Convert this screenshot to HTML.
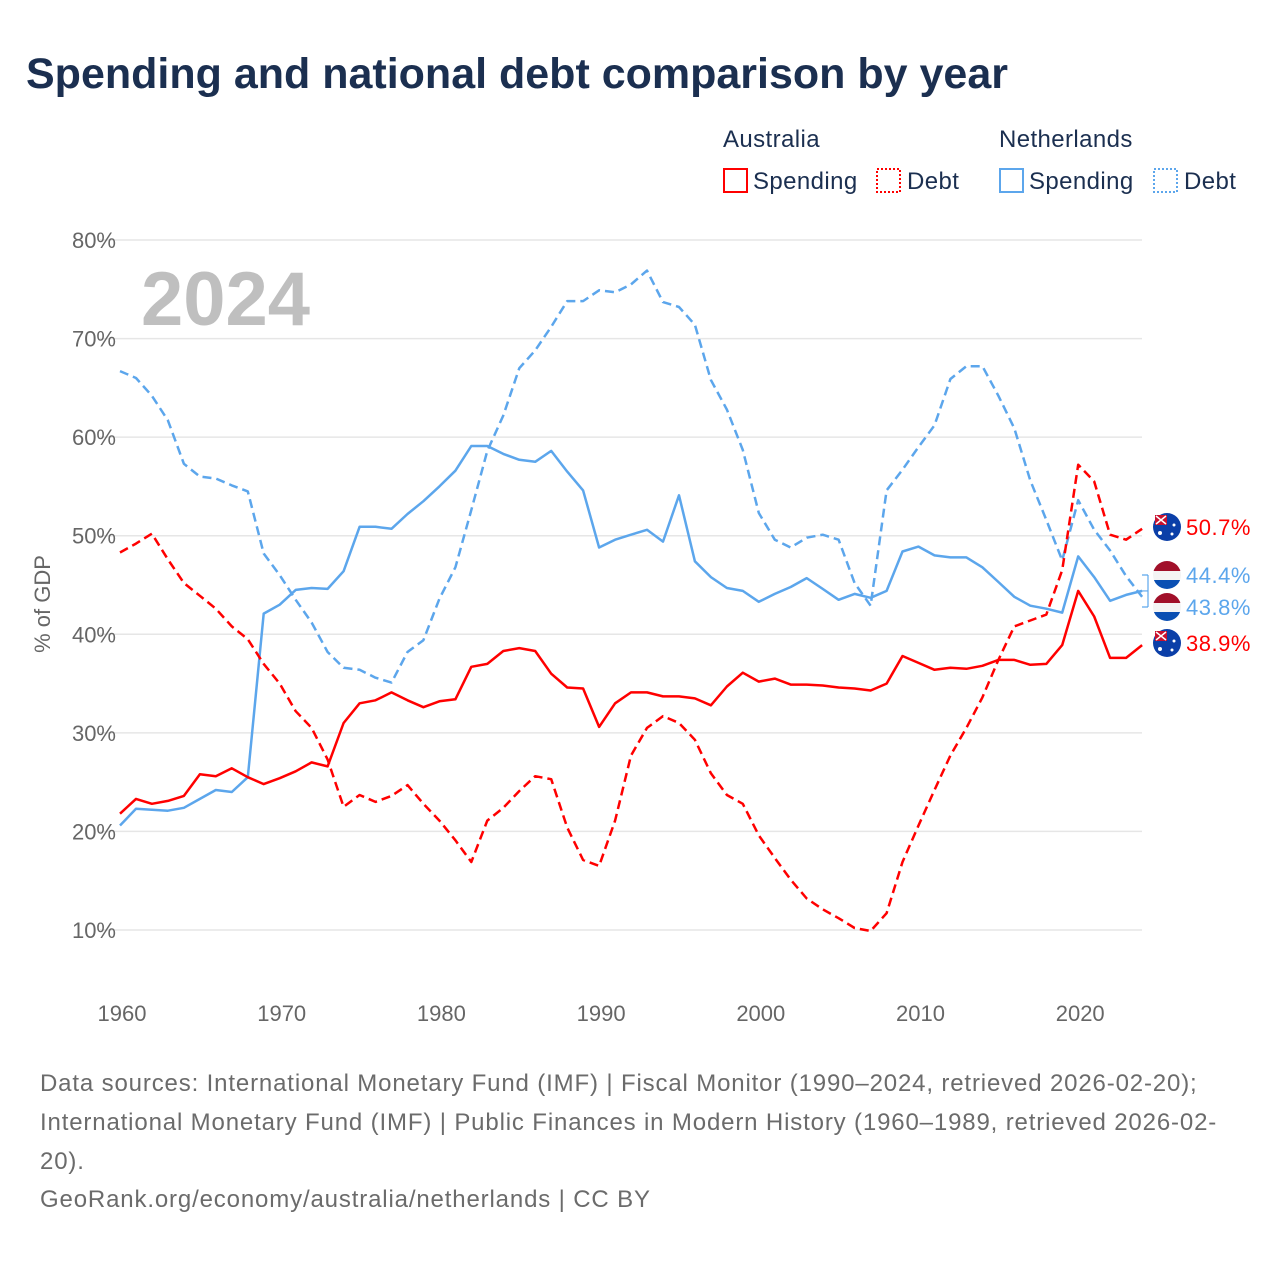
<!DOCTYPE html>
<html><head><meta charset="utf-8">
<style>
body{margin:0;background:#fff;font-family:"Liberation Sans",sans-serif;}
#wrap{position:relative;width:1280px;height:1280px;overflow:hidden;}
h1{position:absolute;left:26px;top:50px;margin:0;font-size:43px;font-weight:bold;color:#1b2f50;letter-spacing:0px;}
.foot{position:absolute;left:40px;font-size:24px;color:#6b6b6b;letter-spacing:0.85px;}
</style></head><body>
<div id="wrap">
<h1>Spending and national debt comparison by year</h1>
<svg id="chart" width="1280" height="1280" style="position:absolute;left:0;top:0"></svg>
<div class="foot" style="top:1070px">Data sources: International Monetary Fund (IMF) | Fiscal Monitor (1990–2024, retrieved 2026-02-20);</div>
<div class="foot" style="top:1109px">International Monetary Fund (IMF) | Public Finances in Modern History (1960–1989, retrieved 2026-02-</div>
<div class="foot" style="top:1148px">20).</div>
<div class="foot" style="top:1186px">GeoRank.org/economy/australia/netherlands | CC BY</div>
</div>
<script>
const years=[];for(let y=1960;y<=2024;y++)years.push(y);
const auSpending=[21.8,23.3,22.8,23.1,23.6,25.8,25.6,26.4,25.5,24.8,25.4,26.1,27.0,26.6,31.0,33.0,33.3,34.1,33.3,32.6,33.2,33.4,36.7,37.0,38.3,38.6,38.3,36.0,34.6,34.5,30.6,33.0,34.1,34.1,33.7,33.7,33.5,32.8,34.7,36.1,35.2,35.5,34.9,34.9,34.8,34.6,34.5,34.3,35.0,37.8,37.1,36.4,36.6,36.5,36.8,37.4,37.4,36.9,37.0,38.9,44.4,41.8,37.6,37.6,38.9];
const auDebt=[48.3,49.2,50.2,47.6,45.2,43.9,42.6,40.8,39.5,37.0,35.0,32.2,30.5,27.3,22.5,23.7,23.0,23.6,24.7,22.8,21.1,19.1,16.9,21.1,22.4,24.1,25.6,25.3,20.4,17.1,16.5,21.1,27.7,30.5,31.7,31.0,29.3,25.9,23.7,22.8,19.6,17.3,15.1,13.2,12.1,11.2,10.2,9.9,11.7,16.9,20.6,24.2,27.7,30.5,33.6,37.4,40.8,41.4,42.0,46.5,57.2,55.5,50.1,49.6,50.7];
const nlSpending=[20.6,22.3,22.2,22.1,22.4,23.3,24.2,24.0,25.5,42.1,43.0,44.5,44.7,44.6,46.4,50.9,50.9,50.7,52.2,53.5,55.0,56.6,59.1,59.1,58.3,57.7,57.5,58.6,56.5,54.6,48.8,49.6,50.1,50.6,49.4,54.1,47.4,45.8,44.7,44.4,43.3,44.1,44.8,45.7,44.6,43.5,44.1,43.7,44.4,48.4,48.9,48.0,47.8,47.8,46.8,45.3,43.8,42.9,42.6,42.2,47.9,45.8,43.4,44.0,44.4];
const nlDebt=[66.7,66.0,64.2,61.7,57.3,56.0,55.8,55.1,54.5,48.2,46.0,43.5,41.2,38.2,36.6,36.4,35.6,35.1,38.2,39.4,43.6,46.8,52.6,58.6,62.2,67.0,68.8,71.2,73.8,73.8,74.9,74.7,75.5,76.9,73.7,73.2,71.4,65.8,62.8,58.7,52.3,49.6,48.8,49.8,50.1,49.6,45.2,42.9,54.6,56.7,59.0,61.2,65.9,67.2,67.2,64.2,60.9,55.6,51.6,47.5,53.6,50.6,48.5,45.9,43.8];
const yTicks=[10,20,30,40,50,60,70,80];
const xTicks=[1960,1970,1980,1990,2000,2010,2020];
const RED="#ff0000",BLUE="#5ca6ec";
const x=v=>120+(v-1960)*15.97;
const y=v=>930-(v-10)*9.857;
const svg=document.getElementById('chart');const NS="http://www.w3.org/2000/svg";
function mk(tag,attrs,parent){const e=document.createElementNS(NS,tag);for(const k in attrs)e.setAttribute(k,attrs[k]);(parent||svg).appendChild(e);return e;}
yTicks.forEach(t=>{
 const l=mk('line',{x1:100,x2:1142,y1:y(t),y2:y(t),stroke:'#e6e6e6','stroke-width':1.5});
 
 
 const tx=mk('text',{x:116,y:y(t)+8,'text-anchor':'end','font-size':22,fill:'#666'});tx.textContent=t+'%';
 
 
});
xTicks.forEach(t=>{
 const tx=mk('text',{x:x(t)+2,y:1021,'text-anchor':'middle','font-size':22,fill:'#666'});tx.textContent=t;
 
 
});
const yt=mk('text',{x:0,y:0,transform:'translate(50,604) rotate(-90)','text-anchor':'middle','font-size':22,fill:'#666'});yt.textContent='% of GDP';


const yr=mk('text',{x:141,y:325,'font-size':76,'font-weight':'bold',fill:'#bfbfbf'});yr.textContent='2024';


function series(vals,color,dash,name){
 const d=vals.map((v,i)=>(i?'L':'M')+x(years[i]).toFixed(1)+','+y(v).toFixed(1)).join(' ');
 const p=mk('path',{d:d,fill:'none',stroke:color,'stroke-width':2.5,'stroke-linejoin':'round'});
 if(dash)p.setAttribute('stroke-dasharray','9,5');
 
 
}
series(nlDebt,BLUE,true,'netherlands-debt-line');
series(nlSpending,BLUE,false,'netherlands-spending-line');
series(auDebt,RED,true,'australia-debt-line');
series(auSpending,RED,false,'australia-spending-line');
function flagAU(cy){
 const g=mk('g',{});
 mk('circle',{cx:1167,cy:cy,r:14,fill:'#0b3fa8'},g);
 mk('rect',{x:1155,y:cy-12,width:12,height:10,fill:'#c8102e'},g);
 mk('path',{d:`M1156 ${cy-11} L1166 ${cy-3} M1166 ${cy-11} L1156 ${cy-3}`,stroke:'#fff','stroke-width':1.5},g);
 mk('circle',{cx:1160,cy:cy+6,r:2,fill:'#fff'},g);mk('circle',{cx:1174,cy:cy-2,r:1.5,fill:'#fff'},g);mk('circle',{cx:1172,cy:cy+7,r:1.5,fill:'#fff'},g);
 return g;
}
function flagNL(cy){
 const g=mk('g',{});
 mk('clipPath',{id:'c'+cy},g);
 const cp=g.lastChild;mk('circle',{cx:1167,cy:cy,r:14},cp);
 mk('rect',{x:1153,y:cy-14,width:28,height:10,fill:'#a1102a','clip-path':`url(#c${cy})`},g);
 mk('rect',{x:1153,y:cy-4,width:28,height:9,fill:'#f4f4f4','clip-path':`url(#c${cy})`},g);
 mk('rect',{x:1153,y:cy+5,width:28,height:10,fill:'#0a4fb3','clip-path':`url(#c${cy})`},g);
 return g;
}
const last=years.length-1;
function endLabel(val,ly,color,flag,name){
 const f=flag(ly);
 
 
 const t=mk('text',{x:1186,y:ly+8,'font-size':22,fill:color,'letter-spacing':0.5});t.textContent=val.toFixed(1)+'%';
 
 
}
mk('path',{d:`M1142 ${y(nlSpending[last])} L1148 ${y(nlSpending[last])} M1148 ${575} L1148 ${607} M1142 575 L1148 575 M1142 607 L1148 607`,stroke:BLUE,'stroke-width':1.2,fill:'none'});
endLabel(auDebt[last],527,RED,flagAU,'australia-debt');
endLabel(nlSpending[last],575,BLUE,flagNL,'netherlands-spending');
endLabel(nlDebt[last],607,BLUE,flagNL,'netherlands-debt');
endLabel(auSpending[last],643,RED,flagAU,'australia-spending');
function legText(tx,xx,yy,name,color){const t=mk('text',{x:xx,y:yy,'font-size':24,fill:color||'#1b2f50','letter-spacing':0.4});t.textContent=tx;
 
 }
legText('Australia',723,147,'legend-australia-heading');
legText('Netherlands',999,147,'legend-netherlands-heading');
function legBox(xx,color,dash,name){const r=mk('rect',{x:xx,y:169,width:23,height:23,fill:'none',stroke:color,'stroke-width':2});
 if(dash)r.setAttribute('stroke-dasharray','2,2');
 
 }
legBox(724,RED,false,'legend-australia-spending');legText('Spending',753,189,'legend-australia-spending-label');
legBox(877,RED,true,'legend-australia-debt');legText('Debt',907,189,'legend-australia-debt-label');
legBox(1000,BLUE,false,'legend-netherlands-spending');legText('Spending',1029,189,'legend-netherlands-spending-label');
legBox(1154,BLUE,true,'legend-netherlands-debt');legText('Debt',1184,189,'legend-netherlands-debt-label');
</script>
</body></html>
